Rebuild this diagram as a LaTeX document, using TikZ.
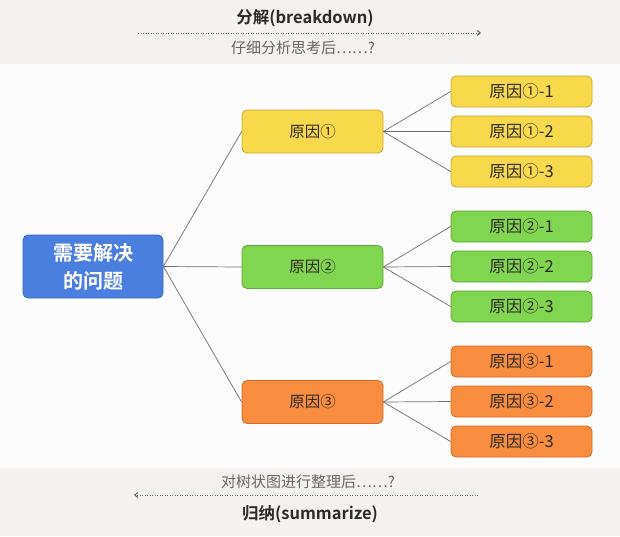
\documentclass[tikz,border=0pt]{standalone}
\usepackage{fontspec}
\setmainfont{Noto Sans CJK SC}
\newfontfamily\cjkb{Noto Sans CJK SC Bold}
\usetikzlibrary{arrows.meta}
\definecolor{bgg}{HTML}{F3F2F0}
\definecolor{bgw}{HTML}{FCFCFC}
\definecolor{yel}{HTML}{F9D94C}
\definecolor{yelb}{HTML}{C9A935}
\definecolor{grn}{HTML}{80D64F}
\definecolor{grnb}{HTML}{5DA63B}
\definecolor{org}{HTML}{F98D3F}
\definecolor{orgb}{HTML}{CF6B2A}
\definecolor{blu}{HTML}{4B7FDF}
\definecolor{blub}{HTML}{3A68BE}
\definecolor{txt}{HTML}{2E2A26}
\definecolor{sub}{HTML}{6A6662}
\definecolor{edge}{HTML}{6E6E6E}
\tikzset{
  box/.style={draw, line width=0.8pt, rounded corners=5pt, inner sep=0pt, text=txt},
  lvone/.style={box, minimum width=141pt, minimum height=43pt, font=\fontsize{15.5}{17}\selectfont},
  lvtwo/.style={box, minimum width=141pt, minimum height=31pt, font=\fontsize{16.5}{18}\selectfont},
  ybox/.style={fill=yel, draw=yelb},
  gbox/.style={fill=grn, draw=grnb},
  obox/.style={fill=org, draw=orgb},
  link/.style={draw=edge, line width=0.7pt},
  dotline/.style={draw=sub, line width=1pt, dash pattern=on 1pt off 1.5pt},
}
\begin{document}
\begin{tikzpicture}[x=1pt,y=-1pt]
\useasboundingbox (0,0) rectangle (620,536);
\fill[bgg] (0,0) rectangle (620,536);
\fill[bgw] (0,64) rectangle (620,468);
% titles
\node[font=\cjkb\fontsize{16.5}{18}\selectfont, text=txt] (t1) at (305,18) {分解(breakdown)};
\coordinate (a1s) at (138,33);
\coordinate (a1e) at (481,33);
\draw[dotline, -{Straight Barb[length=3pt,width=5pt]}] (a1s) -- (a1e);
\node[font=\fontsize{15}{17}\selectfont, text=sub] (t2) at (303,48) {仔细分析思考后……?};
\node[font=\fontsize{15}{17}\selectfont, text=sub] (b1) at (308,482) {对树状图进行整理后……?};
\coordinate (a2s) at (478,495);
\coordinate (a2e) at (134,495);
\draw[dotline, -{Straight Barb[length=3pt,width=5pt]}] (a2s) -- (a2e);
\node[font=\cjkb\fontsize{16.5}{18}\selectfont, text=txt] (b2) at (310,514) {归纳(summarize)};
% root
\node[box, fill=blu, draw=blub, minimum width=140pt, minimum height=63pt, text=white, align=center, font=\cjkb\fontsize{20}{28}\selectfont] (root) at (93,266.5) {需要解决\\的问题};
% level 1
\node[lvone, ybox] (c1) at (312.5,131.5) {原因①};
\node[lvone, gbox] (c2) at (312.5,267) {原因②};
\node[lvone, obox] (c3) at (312.5,402) {原因③};
% level 2
\node[lvtwo, ybox] (c11) at (521.5,91.5) {原因①-1};
\node[lvtwo, ybox] (c12) at (521.5,131.5) {原因①-2};
\node[lvtwo, ybox] (c13) at (521.5,171.5) {原因①-3};
\node[lvtwo, gbox] (c21) at (521.5,226.5) {原因②-1};
\node[lvtwo, gbox] (c22) at (521.5,266.5) {原因②-2};
\node[lvtwo, gbox] (c23) at (521.5,306.5) {原因②-3};
\node[lvtwo, obox] (c31) at (521.5,361.5) {原因③-1};
\node[lvtwo, obox] (c32) at (521.5,401.5) {原因③-2};
\node[lvtwo, obox] (c33) at (521.5,441.5) {原因③-3};
% links
\foreach \c in {c1,c2,c3} \draw[link] (root.east) -- (\c.west);
\foreach \p in {1,2,3}{
  \foreach \q in {1,2,3}{
    \draw[link] (c\p.east) -- (c\p\q.west);
  }
}
\end{tikzpicture}
\end{document}
